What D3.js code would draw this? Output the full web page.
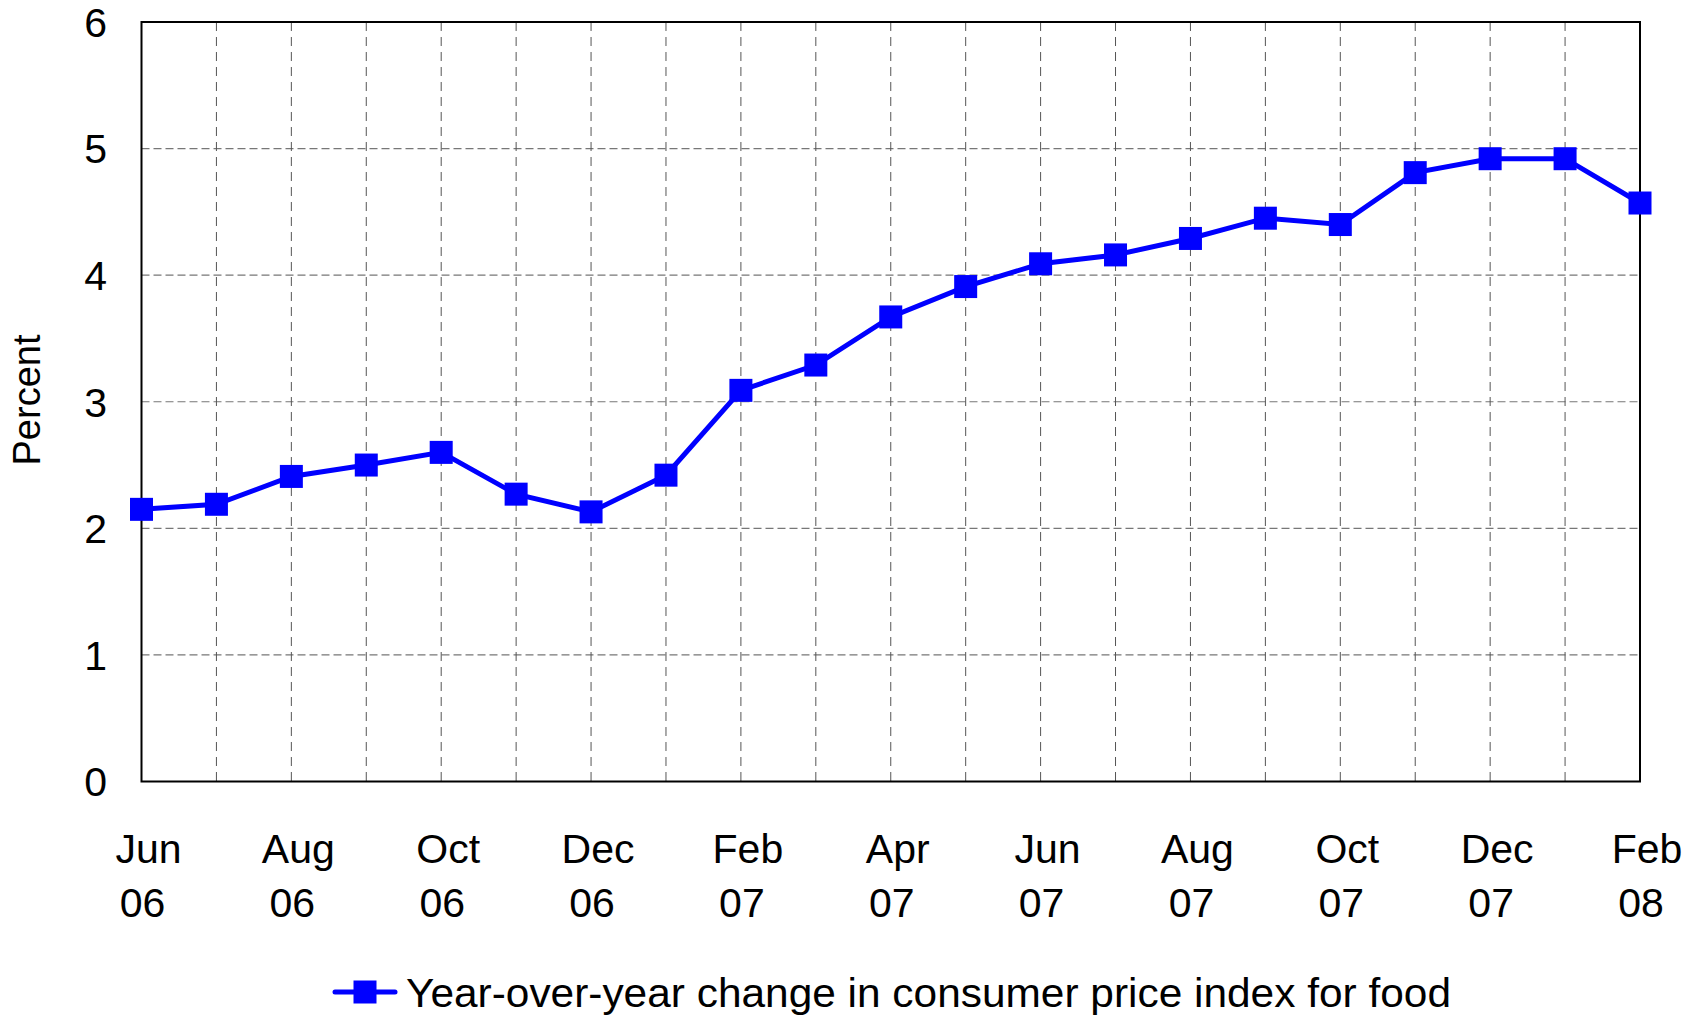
<!DOCTYPE html>
<html>
<head>
<meta charset="utf-8">
<script src="https://cdn.jsdelivr.net/npm/d3@7"></script>
<style>
  body { margin: 0; background: #fff; }
  text { font-family: Arial, "Liberation Sans", sans-serif; fill: #000; }
</style>
</head>
<body>
<svg id="chart" width="1696" height="1017"></svg>
<script>
// monthly labels, Jun 06 .. Feb 08
var months = ["Jun 06","Jul 06","Aug 06","Sep 06","Oct 06","Nov 06","Dec 06",
              "Jan 07","Feb 07","Mar 07","Apr 07","May 07","Jun 07","Jul 07",
              "Aug 07","Sep 07","Oct 07","Nov 07","Dec 07","Jan 08","Feb 08"];
var foodCpi = [2.15, 2.19, 2.41, 2.50, 2.60, 2.27, 2.13,
               2.42, 3.09, 3.29, 3.67, 3.91, 4.09, 4.16,
               4.29, 4.45, 4.40, 4.81, 4.92, 4.92, 4.57];
var yTicks = [0, 1, 2, 3, 4, 5, 6];
var seriesName = "Year-over-year change in consumer price index for food";

// plot box (note: "top" is reserved on window, so use other names)
var plotL = 141.5, plotR = 1640, plotT = 22, plotB = 781.5;

var svg = d3.select("#chart");

var x = d3.scalePoint().domain(months).range([plotL, plotR]);
var y = d3.scaleLinear().domain([0, 6]).range([plotB, plotT]);

// grid lines
var grid = svg.append("g");
grid.selectAll(".hg")
  .data(yTicks.slice(1, -1))
  .enter().append("line")
  .attr("x1", plotL).attr("x2", plotR)
  .attr("y1", d => y(d)).attr("y2", d => y(d))
  .style("stroke", "#777")
  .style("stroke-width", 1.2)
  .style("stroke-dasharray", "8,4");

grid.selectAll(".vg")
  .data(months.slice(1, -1))
  .enter().append("line")
  .attr("x1", d => x(d)).attr("x2", d => x(d))
  .attr("y1", plotT).attr("y2", plotB)
  .style("stroke", "#555")
  .style("stroke-width", 1)
  .style("stroke-dasharray", "9,6");

// plot frame
svg.append("rect")
  .attr("x", plotL).attr("y", plotT)
  .attr("width", plotR - plotL).attr("height", plotB - plotT)
  .style("fill", "none")
  .style("stroke", "#000")
  .style("stroke-width", 2);

// y tick labels
svg.append("g").selectAll("text")
  .data(yTicks)
  .enter().append("text")
  .attr("x", 107)
  .attr("y", d => y(d))
  .attr("dy", "0.36em")
  .attr("text-anchor", "end")
  .style("font-size", "41px")
  .text(d => d);

// x tick labels, every second month, two lines
var xLabels = svg.append("g").selectAll("text")
  .data(months.filter((d, i) => i % 2 == 0))
  .enter().append("text")
  .attr("text-anchor", "middle")
  .style("font-size", "41px");
xLabels.append("tspan")
  .attr("x", d => x(d) + 7).attr("y", 863)
  .text(d => d.split(" ")[0]);
xLabels.append("tspan")
  .attr("x", d => x(d) + 1).attr("y", 917)
  .text(d => d.split(" ")[1]);

// axis title
svg.append("text")
  .attr("transform", "translate(40,400) rotate(-90)")
  .attr("text-anchor", "middle")
  .style("font-size", "38px")
  .text("Percent");

// series line
var line = d3.line()
  .x((d, i) => x(months[i]))
  .y(d => y(d));

svg.append("path")
  .datum(foodCpi)
  .attr("d", line)
  .style("fill", "none")
  .style("stroke", "#0000ff")
  .style("stroke-width", 5);

var ms = 23;
svg.append("g").selectAll("rect")
  .data(foodCpi)
  .enter().append("rect")
  .attr("x", (d, i) => x(months[i]) - ms / 2)
  .attr("y", d => y(d) - ms / 2)
  .attr("width", ms).attr("height", ms)
  .style("fill", "#0000ff");

// legend
var lg = svg.append("g");
lg.append("line")
  .attr("x1", 335).attr("x2", 395)
  .attr("y1", 992).attr("y2", 992)
  .style("stroke", "#0000ff")
  .style("stroke-width", 5)
  .style("stroke-linecap", "round");
lg.append("rect")
  .attr("x", 365 - ms / 2).attr("y", 992 - ms / 2)
  .attr("width", ms).attr("height", ms)
  .style("fill", "#0000ff");
lg.append("text")
  .attr("x", 406).attr("y", 1007)
  .attr("textLength", 1045)
  .attr("lengthAdjust", "spacingAndGlyphs")
  .style("font-size", "41px")
  .text(seriesName);
</script>
</body>
</html>
